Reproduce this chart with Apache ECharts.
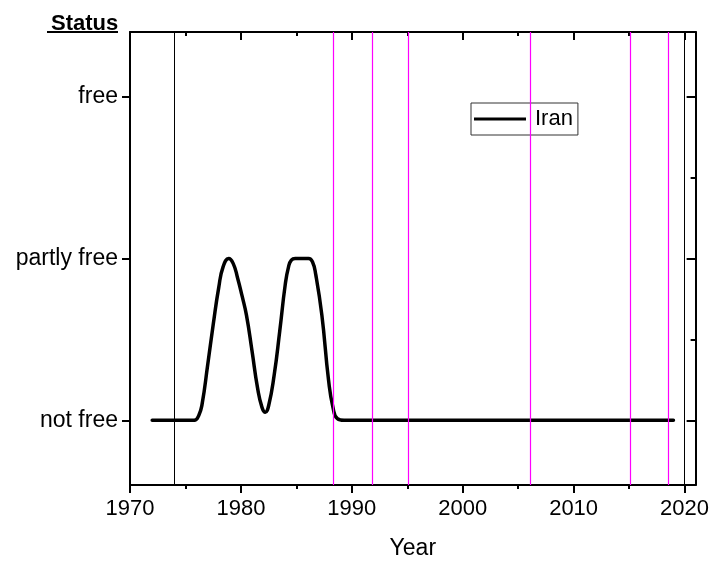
<!DOCTYPE html>
<html>
<head>
<meta charset="utf-8">
<script src="https://cdn.jsdelivr.net/npm/echarts@6/dist/echarts.min.js"></script>
<style>
  html, body { margin: 0; padding: 0; background: #fff; }
  #chart { width: 712px; height: 565px; }
</style>
</head>
<body>
<div id="chart"></div>
<script>
// status: 0 = not free, 1 = partly free, 2 = free
const years = [1972, 1975, 1975.8, 1976.2, 1976.5, 1977, 1977.5, 1978, 1978.4, 1978.9,
  1979.3, 1979.7, 1980.1, 1980.5, 1981, 1981.5, 1981.9, 1982.2, 1982.5, 1983,
  1983.5, 1984, 1984.3, 1984.55, 1984.9, 1985.7, 1986.1, 1986.45, 1986.75, 1987.3,
  1987.9, 1988.3, 1988.7, 1989.3, 2000, 2019];
const iran = [0, 0, 0, 0.03, 0.1, 0.34, 0.59, 0.82, 0.95, 1.0,
  0.97, 0.88, 0.77, 0.65, 0.43, 0.2, 0.08, 0.05, 0.09, 0.28,
  0.55, 0.84, 0.95, 0.99, 1.0, 1.0, 1.0, 0.98, 0.9, 0.65,
  0.25, 0.08, 0.01, 0, 0, 0];

const statusLabels = ['not free', 'partly free', 'free'];
const statusTicks = [0, 1, 2];
const statusMinor = [0.5, 1.5];
const yearTicks = [1970, 1980, 1990, 2000, 2010, 2020];
const yearMinor = [1975, 1985, 1995, 2005, 2015];
const blackLines = [1974, 2020];
const magentaLines = [1988.3, 1991.8, 1995.1, 2006.1, 2015.1, 2018.5];

const font = 'Liberation Sans, Arial, sans-serif';
const axisLine = { show: true, onZero: false, lineStyle: { color: '#000', width: 2 } };

const chart = echarts.init(document.getElementById('chart'));

function xAx(pos, ticks, len, inside, extra) {
  return Object.assign({
    type: 'value', position: pos, min: 1970, max: 2021,
    axisLine: { show: false, onZero: false },
    axisTick: { show: true, inside: inside, length: len, customValues: ticks,
      lineStyle: { color: '#000', width: 2 } },
    axisLabel: { show: false },
    splitLine: { show: false }
  }, extra || {});
}
function yAx(pos, ticks, len, inside, extra) {
  return Object.assign({
    type: 'value', position: pos, min: -0.4, max: 2.4,
    axisLine: { show: false, onZero: false },
    axisTick: { show: true, inside: inside, length: len, customValues: ticks,
      lineStyle: { color: '#000', width: 2 } },
    axisLabel: { show: false },
    splitLine: { show: false }
  }, extra || {});
}

chart.setOption({
  animation: false,
  textStyle: { fontFamily: font },
  title: {
    text: 'Status', left: 46, top: 8,
    textStyle: { fontFamily: font, fontSize: 22, fontWeight: 'bold', color: '#000' }
  },
  graphic: [{
    type: 'rect', left: 47, top: 31,
    shape: { width: 71, height: 2 },
    style: { fill: '#000' }
  }],
  grid: { left: 130, top: 32, width: 566, height: 457, containLabel: false },
  legend: {
    data: [{ name: 'Iran', icon: 'rect' }],
    left: 471, top: 103,
    itemWidth: 52, itemHeight: 3, itemGap: 0,
    padding: [5, 5, 5, 3],
    borderColor: '#333', borderWidth: 1,
    textStyle: { fontFamily: font, fontSize: 22, color: '#000', padding: [0, 0, 0, 4] }
  },
  xAxis: [
    xAx('bottom', yearTicks, 8, false, {
      axisLine: axisLine,
      axisLabel: { show: true, customValues: yearTicks, margin: 13,
        fontFamily: font, fontSize: 22, color: '#000', formatter: v => String(v) },
      name: 'Year', nameLocation: 'middle', nameGap: 52,
      nameTextStyle: { fontFamily: font, fontSize: 23, color: '#000' }
    }),
    xAx('bottom', yearMinor, 4, false),
    xAx('top', yearTicks, 8, true, { axisLine: axisLine }),
    xAx('top', yearMinor, 4, true)
  ],
  yAxis: [
    yAx('left', statusTicks, 8, false, {
      axisLine: axisLine,
      axisLabel: { show: true, customValues: statusTicks, margin: 12,
        fontFamily: font, fontSize: 23, color: '#000',
        formatter: v => statusLabels[Math.round(v)] }
    }),
    yAx('right', statusTicks, 9, true, { axisLine: axisLine }),
    yAx('right', statusMinor, 5, true)
  ],
  series: [{
    name: 'Iran', type: 'line',
    data: years.map((y, i) => [y, iran[i]]),
    smooth: 0.5,
    showSymbol: false,
    lineStyle: { color: '#000', width: 3.5, join: 'round', cap: 'round' },
    itemStyle: { color: '#000' },
    z: 3,
    markLine: {
      silent: true, symbol: 'none', label: { show: false },
      data: blackLines.map(x => ({ xAxis: x, lineStyle: { color: '#000', width: 1, type: 'solid' } }))
        .concat(magentaLines.map(x => ({ xAxis: x, lineStyle: { color: '#ff00ff', width: 1.2, type: 'solid' } })))
    }
  }]
});
</script>
</body>
</html>
